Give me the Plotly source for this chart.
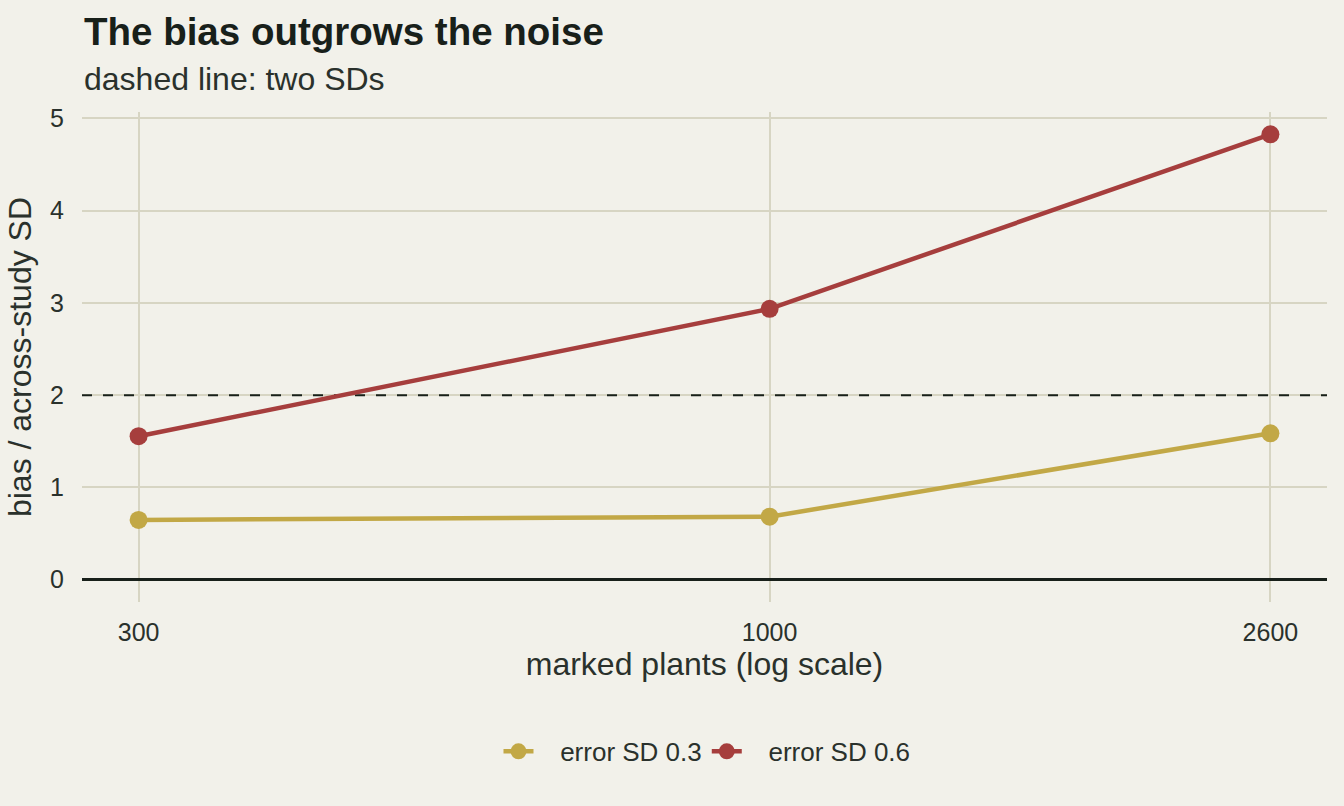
import numpy as np
import plotly.graph_objects as go

# marked plants (x, log scale)
plants = [300, 1000, 2600]
# bias / across-study SD for two measurement-error levels
bias_sd03 = [0.648, 0.683, 1.587]
bias_sd06 = [1.555, 2.935, 4.827]
series_names = ["error SD 0.3", "error SD 0.6"]
threshold = 2

bg = "#F2F1EA"
grid = "#D7D5C3"
ink = "#18201A"
gold = "#C2A846"
red = "#A63E3D"
txt = "#2A312C"
font = "Liberation Sans, Arial, sans-serif"
nb = "\u00a0"

lx = np.log10(plants)
xpad = (lx.max() - lx.min()) * 0.05
xr = [lx.min() - xpad, lx.max() + xpad]
ymax = max(bias_sd06)
ypad = ymax * 0.05

fig = go.Figure()
# dashed reference line at two SDs, across the whole panel, under the series
fig.add_trace(go.Scatter(x=[10 ** xr[0], 10 ** xr[1]], y=[threshold, threshold], mode="lines",
                         line=dict(color=ink, width=2, dash="10px,11px"),
                         showlegend=False, hoverinfo="skip"))
for name, vals, col in [(series_names[0], bias_sd03, gold), (series_names[1], bias_sd06, red)]:
    fig.add_trace(go.Scatter(x=plants, y=vals, name=nb * 3 + name, mode="lines+markers",
                             line=dict(color=col, width=4.5),
                             marker=dict(color=col, size=18)))

fig.update_layout(
    width=1344, height=806,
    paper_bgcolor=bg, plot_bgcolor=bg,
    margin=dict(l=82, r=17, t=112, b=204),
    font=dict(family=font, color=txt, size=25),
    showlegend=True,
    legend=dict(orientation="h", x=0.502, xanchor="center", y=-0.305, yanchor="middle",
                font=dict(size=26, color=txt), bgcolor="rgba(0,0,0,0)"),
    annotations=[
        dict(text="<b>The bias outgrows the noise</b>", x=0, xref="paper", xanchor="left",
             y=1.164, yref="paper", yanchor="middle", showarrow=False,
             font=dict(size=38.5, color=ink)),
        dict(text="dashed line: two SDs", x=0, xref="paper", xanchor="left",
             y=1.068, yref="paper", yanchor="middle", showarrow=False,
             font=dict(size=32, color=txt)),
    ],
)

fig.update_xaxes(type="log", range=xr,
                 tickvals=plants, ticktext=[str(p) for p in plants],
                 showgrid=True, gridcolor=grid, gridwidth=2,
                 ticks="outside", ticklen=8, tickcolor=bg,
                 zeroline=False, showline=False,
                 title=dict(text="marked plants (log scale)", standoff=6,
                            font=dict(size=32, color=txt)))
fig.update_yaxes(range=[-ypad, ymax + ypad], tickvals=[0, 1, 2, 3, 4, 5],
                 showgrid=True, gridcolor=grid, gridwidth=2,
                 ticks="outside", ticklen=12, tickcolor=bg,
                 zeroline=True, zerolinecolor=ink, zerolinewidth=2.5,
                 showline=False,
                 title=dict(text="bias / across-study SD", standoff=8,
                            font=dict(size=32, color=txt)))

fig.write_html("out.html", config={"displayModeBar": False},
               post_script="document.body.style.margin='0';document.body.style.background='%s';" % bg)
